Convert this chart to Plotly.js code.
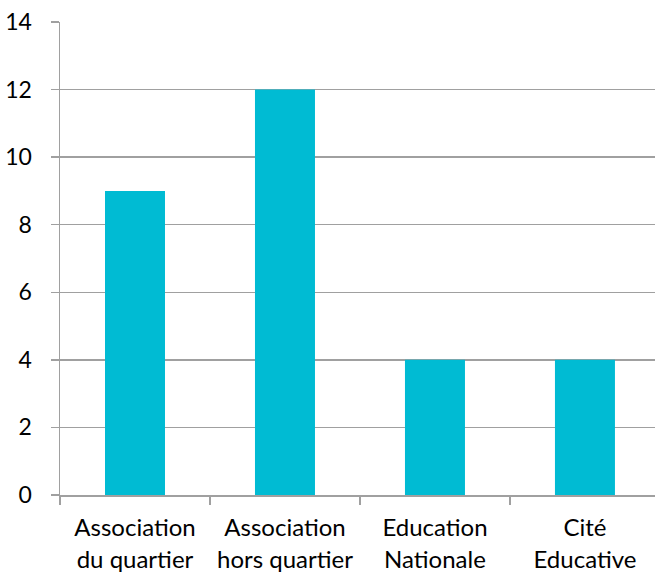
<!DOCTYPE html>
<html>
<head>
<meta charset="utf-8">
<script src="https://cdn.plot.ly/plotly-3.0.1.min.js"></script>
<style>html,body{margin:0;padding:0;background:#fff;}#chart{width:655px;height:576px;}</style>
</head>
<body>
<div id="chart"></div>
<script>
const categories = ["Association<br>du quartier", "Association<br>hors quartier", "Education<br>Nationale", "Cité<br>Educative"];
const values = [9, 12, 4, 4];
const yTicks = [0, 2, 4, 6, 8, 10, 12, 14];

const trace = {
  type: "bar",
  x: categories,
  y: values,
  marker: {color: "#00BBD3"},
  hoverinfo: "none"
};

const layout = {
  width: 655,
  height: 576,
  margin: {l: 60, r: 0, t: 22, b: 81},
  paper_bgcolor: "#fff",
  plot_bgcolor: "#fff",
  bargap: 0.6,
  showlegend: false,
  font: {family: "Lato, 'Open Sans', sans-serif", size: 23, color: "#000"},
  xaxis: {
    type: "category",
    range: [-0.5, 3.467],
    showgrid: false,
    showline: true,
    linecolor: "#A0A0A0",
    linewidth: 1.5,
    ticks: "outside",
    tickson: "boundaries",
    ticklen: 8,
    tickcolor: "#A0A0A0",
    tickwidth: 1.5,
    ticklabelstandoff: 11,
    tickfont: {size: 24, color: "#000"},
    zeroline: false,
    fixedrange: true
  },
  yaxis: {
    range: [0, 14],
    tickvals: yTicks,
    ticktext: yTicks.map(String),
    showgrid: true,
    gridcolor: "#A0A0A0",
    gridwidth: 1.5,
    showline: true,
    linecolor: "#A0A0A0",
    linewidth: 1.5,
    ticks: "outside",
    ticklen: 8,
    tickcolor: "#A0A0A0",
    tickwidth: 1.5,
    ticklabelstandoff: 14,
    tickfont: {size: 23, color: "#000"},
    zeroline: false,
    fixedrange: true
  }
};

Plotly.newPlot("chart", [trace], layout, {displayModeBar: false, staticPlot: true});
</script>
</body>
</html>
